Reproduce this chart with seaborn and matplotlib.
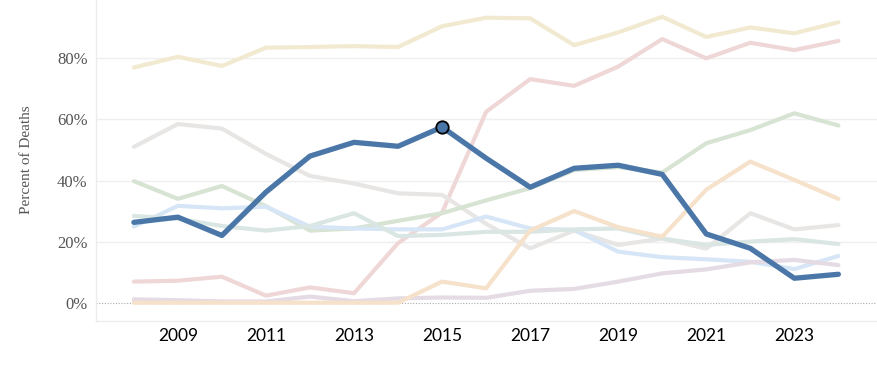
import numpy as np
import pandas as pd
import matplotlib.pyplot as plt
import seaborn as sns

years = list(range(2008, 2025))

# percent of deaths per category
highlight = [26.3, 28.0, 22.0, 36.2, 48.0, 52.5, 51.2, 57.5, 47.3, 37.8, 44.0, 45.0, 42.0, 22.5, 17.8, 8.0, 9.3]
cream = [77.0, 80.5, 77.5, 83.5, 83.7, 84.0, 83.7, 90.5, 93.3, 93.1, 84.3, 88.5, 93.6, 87.0, 90.1, 88.2, 91.8]
pink = [6.9, 7.2, 8.5, 2.3, 5.0, 3.1, 19.5, 29.5, 62.5, 73.2, 71.0, 77.3, 86.3, 80.0, 85.1, 82.7, 85.7]
grey = [51.0, 58.5, 57.0, 48.7, 41.5, 39.0, 35.8, 35.3, 25.8, 17.8, 23.6, 18.9, 21.0, 17.7, 29.3, 24.0, 25.4]
green = [39.8, 34.0, 38.2, 31.6, 23.6, 24.3, 26.8, 29.3, 33.5, 37.5, 43.4, 44.4, 42.6, 52.2, 56.5, 62.0, 58.0]
lightblue = [24.9, 31.7, 30.9, 31.4, 24.9, 24.3, 24.0, 24.0, 28.2, 24.3, 23.8, 16.7, 14.9, 14.2, 13.4, 11.0, 15.3]
teal = [28.4, 27.5, 25.1, 23.6, 25.1, 29.3, 21.8, 22.2, 23.2, 23.2, 24.0, 24.3, 21.0, 18.9, 20.0, 20.8, 19.2]
lavender = [1.1, 0.8, 0.4, 0.4, 2.0, 0.5, 1.4, 1.7, 1.6, 3.9, 4.5, 6.9, 9.6, 10.9, 13.2, 14.0, 12.3]
peach = [0.0, 0.0, 0.0, 0.0, 0.0, 0.0, 0.0, 6.9, 4.7, 23.6, 30.0, 24.7, 21.6, 37.0, 46.2, 40.2, 34.0]

peak_year = 2015

series = {
    "cream": cream, "pink": pink, "grey": grey, "green": green,
    "lightblue": lightblue, "teal": teal, "lavender": lavender, "peach": peach,
}
colors = {
    "cream": "#f2ead0", "pink": "#f0d7d7", "grey": "#e8e6e4", "green": "#d7e3d3",
    "lightblue": "#d7e6f6", "teal": "#dae6e3", "lavender": "#e5dbe4", "peach": "#f6e1ca",
}

df = pd.DataFrame([
    {"year": y, "pct": v, "group": name}
    for name, vals in series.items() for y, v in zip(years, vals)
])
hl = pd.DataFrame({"year": years, "pct": highlight})

sns.set_style("white")
fig = plt.figure(figsize=(8.78, 3.71), dpi=100)
ax = fig.add_axes([96 / 878, 1 - 320.7 / 371, 1 - 96 / 878, 320.7 / 371])

for v in [20, 40, 60, 80]:
    ax.axhline(v, color="#efefef", lw=1, zorder=0)
ax.axhline(0, color="#aaaaaa", lw=0.8, ls=(0, (1, 1.5)), zorder=0)

sns.lineplot(data=df, x="year", y="pct", hue="group", palette=colors,
             linewidth=3.0, legend=False, ax=ax, zorder=2,
             solid_capstyle="round", solid_joinstyle="round")
sns.lineplot(data=hl, x="year", y="pct", color="#4a77a8", linewidth=3.8,
             legend=False, ax=ax, zorder=3,
             solid_capstyle="round", solid_joinstyle="round")
pk = hl[hl["year"] == peak_year]
sns.scatterplot(data=pk, x="year", y="pct", color="#4a77a8", s=80,
                edgecolor="black", linewidth=1.3, ax=ax, zorder=4, legend=False)

ax.set_xlim(2007.14, 2024.9)
ax.set_ylim(-5.9, 99.1)

ax.set_yticks([0, 20, 40, 60, 80])
ax.set_yticklabels(["0%", "20%", "40%", "60%", "80%"])
ax.set_xticks(years)
ax.set_xticklabels([str(y) if y % 2 == 1 else "" for y in years])
for lab in ax.get_yticklabels():
    lab.set_fontfamily("Liberation Serif")
    lab.set_fontsize(12)
    lab.set_color("#555555")
for lab in ax.get_xticklabels():
    lab.set_fontfamily("Lato")
    lab.set_fontsize(12.5)
    lab.set_color("#000000")
ax.tick_params(axis="y", length=0, pad=6)
ax.tick_params(axis="x", length=4, color="#e6e6e6", width=0.8, pad=1.5)

ax.set_xlabel("")
ax.set_ylabel("Percent of Deaths", fontfamily="Liberation Serif", fontsize=11,
              color="#555555")
ax.yaxis.set_label_coords(-0.08, (320.7 - 160) / 320.7)

for s in ["top", "right"]:
    ax.spines[s].set_visible(False)
for s in ["left", "bottom"]:
    ax.spines[s].set_color("#ececec")
    ax.spines[s].set_linewidth(1)

fig.savefig("out.png", dpi=100)
